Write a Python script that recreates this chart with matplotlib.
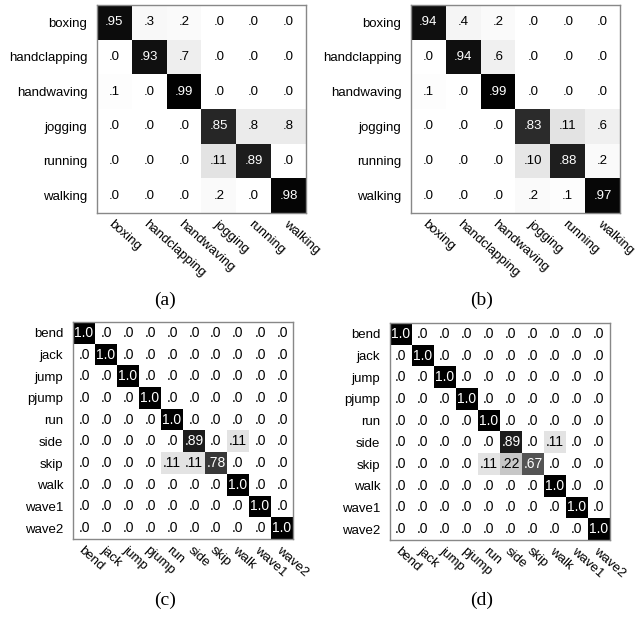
import matplotlib
matplotlib.use('Agg')
import matplotlib.pyplot as plt
import numpy as np

plt.rcParams['font.family'] = ['Liberation Sans', 'DejaVu Sans']

# KTH confusion matrices (percent)
kth_classes = ['boxing', 'handclapping', 'handwaving', 'jogging', 'running', 'walking']
kth_a = [[95, 3, 2, 0, 0, 0],
         [0, 93, 7, 0, 0, 0],
         [1, 0, 99, 0, 0, 0],
         [0, 0, 0, 85, 8, 8],
         [0, 0, 0, 11, 89, 0],
         [0, 0, 0, 2, 0, 98]]
kth_b = [[94, 4, 2, 0, 0, 0],
         [0, 94, 6, 0, 0, 0],
         [1, 0, 99, 0, 0, 0],
         [0, 0, 0, 83, 11, 6],
         [0, 0, 0, 10, 88, 2],
         [0, 0, 0, 2, 1, 97]]

# Weizmann confusion matrices (percent)
wz_classes = ['bend', 'jack', 'jump', 'pjump', 'run', 'side', 'skip', 'walk', 'wave1', 'wave2']
wz_c = [[100, 0, 0, 0, 0, 0, 0, 0, 0, 0],
        [0, 100, 0, 0, 0, 0, 0, 0, 0, 0],
        [0, 0, 100, 0, 0, 0, 0, 0, 0, 0],
        [0, 0, 0, 100, 0, 0, 0, 0, 0, 0],
        [0, 0, 0, 0, 100, 0, 0, 0, 0, 0],
        [0, 0, 0, 0, 0, 89, 0, 11, 0, 0],
        [0, 0, 0, 0, 11, 11, 78, 0, 0, 0],
        [0, 0, 0, 0, 0, 0, 0, 100, 0, 0],
        [0, 0, 0, 0, 0, 0, 0, 0, 100, 0],
        [0, 0, 0, 0, 0, 0, 0, 0, 0, 100]]
wz_d = [[100, 0, 0, 0, 0, 0, 0, 0, 0, 0],
        [0, 100, 0, 0, 0, 0, 0, 0, 0, 0],
        [0, 0, 100, 0, 0, 0, 0, 0, 0, 0],
        [0, 0, 0, 100, 0, 0, 0, 0, 0, 0],
        [0, 0, 0, 0, 100, 0, 0, 0, 0, 0],
        [0, 0, 0, 0, 0, 89, 0, 11, 0, 0],
        [0, 0, 0, 0, 11, 22, 67, 0, 0, 0],
        [0, 0, 0, 0, 0, 0, 0, 100, 0, 0],
        [0, 0, 0, 0, 0, 0, 0, 0, 100, 0],
        [0, 0, 0, 0, 0, 0, 0, 0, 0, 100]]

W, H = 636, 617


def px_rect(left, top, w, h):
    return [left / W, 1 - (top + h) / H, w / W, h / H]


def fmt(v):
    return '1.0' if v == 100 else '.%d' % v


def draw_conf(ax, mat, classes, fs_num, fs_lab, xpad):
    data = np.array(mat)
    n = len(classes)
    ax.imshow(data, cmap='gray_r', vmin=0, vmax=100, aspect='auto',
              interpolation='nearest')
    for i in range(n):
        for j in range(n):
            v = data[i, j]
            ax.text(j, i, fmt(v), ha='center', va='center', fontsize=fs_num,
                    color='white' if v >= 50 else 'black')
    ax.set_xticks(np.arange(n))
    ax.set_yticks(np.arange(n))
    ax.set_xticklabels(classes, rotation=-42, ha='left', va='top',
                       rotation_mode='anchor', fontsize=fs_lab)
    ax.set_yticklabels(classes, fontsize=fs_lab)
    ax.tick_params(axis='y', length=0, pad=7)
    ax.tick_params(axis='x', length=0, pad=xpad)
    for s in ax.spines.values():
        s.set_color('#888888')
        s.set_linewidth(1.0)


fig = plt.figure(figsize=(W / 100, H / 100), dpi=100)

ax1 = fig.add_axes(px_rect(97, 5, 209, 208))
draw_conf(ax1, kth_a, kth_classes, 9.5, 9.5, 4)
ax2 = fig.add_axes(px_rect(411, 5, 209, 208))
draw_conf(ax2, kth_b, kth_classes, 9.5, 9.5, 4)
ax3 = fig.add_axes(px_rect(73, 322, 220, 217))
draw_conf(ax3, wz_c, wz_classes, 10, 9.5, 4)
ax4 = fig.add_axes(px_rect(390, 323, 220, 217))
draw_conf(ax4, wz_d, wz_classes, 10, 9.5, 4)

for lab, x, y in [('(a)', 165, 300), ('(b)', 482, 300), ('(c)', 165, 600), ('(d)', 482, 600)]:
    fig.text(x / W, 1 - y / H, lab, ha='center', va='center', fontsize=14,
             family='Liberation Serif')

plt.savefig('out.png', dpi=100)
